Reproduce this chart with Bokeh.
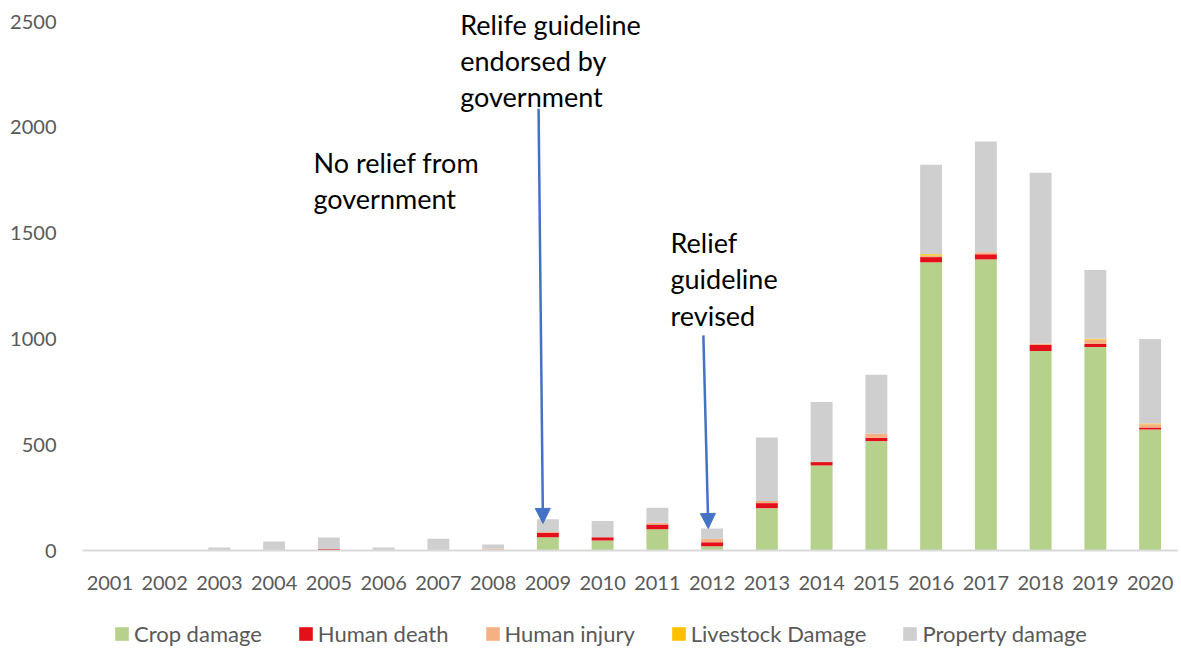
from bokeh.plotting import figure
from bokeh.layouts import column
from bokeh.models import (ColumnDataSource, Range1d, FixedTicker, Legend, LegendItem,
                          Arrow, NormalHead, Label)
from bokeh.embed import file_html
from bokeh.resources import INLINE

years = list(range(2001, 2021))
crop = [0, 0, 0, 0, 0, 0, 0, 0, 63, 47, 101, 20, 200, 402, 517, 1362, 1376, 943, 962, 572]
death = [0, 0, 0, 0, 8, 0, 0, 3, 21, 16, 22, 19, 24, 16, 16, 25, 24, 28, 14, 10]
injury = [0, 0, 0, 0, 0, 0, 0, 5, 4, 0, 8, 16, 10, 2, 19, 7, 10, 8, 21, 15]
livestock = [0, 0, 0, 0, 0, 0, 0, 0, 0, 0, 0, 0, 0, 0, 0, 7, 0, 0, 4, 3]
prop = [0, 0, 14, 43, 54, 14, 55, 20, 60, 76, 71, 49, 300, 282, 279, 423, 524, 807, 325, 400]

series = ["crop", "death", "injury", "livestock", "prop"]
labels = ["Crop damage", "Human death", "Human injury", "Livestock Damage", "Property damage"]
colors = ["#B5D18B", "#E3101A", "#F4B183", "#FFC000", "#CFCFCF"]
yticks = [0, 500, 1000, 1500, 2000, 2500]

source = ColumnDataSource(dict(x=years, crop=crop, death=death, injury=injury,
                               livestock=livestock, prop=prop))

FONT = "Lato"
GRAY = "#595959"

p = figure(width=1181, height=598, output_backend="svg", toolbar_location=None,
           x_range=Range1d(2000.5, 2020.5), y_range=Range1d(0, 2600),
           min_border_left=82, min_border_right=4, min_border_top=0, min_border_bottom=48)
p.outline_line_color = None
p.xgrid.grid_line_color = None
p.ygrid.grid_line_color = None

rs = p.vbar_stack(series, x="x", width=0.4, source=source, color=colors, line_color=None)

# axes
p.xaxis.ticker = FixedTicker(ticks=years)
p.xaxis.axis_line_color = "#D9D9D9"
p.xaxis.axis_line_width = 2
p.xaxis.major_tick_line_color = None
p.xaxis.minor_tick_line_color = None
p.xaxis.major_label_text_font = FONT
p.xaxis.major_label_text_font_size = "20px"
p.xaxis.major_label_text_color = GRAY
p.xaxis.major_label_standoff = 19

p.yaxis.ticker = FixedTicker(ticks=yticks)
p.yaxis.axis_line_color = None
p.yaxis.major_tick_line_color = None
p.yaxis.minor_tick_line_color = None
p.yaxis.major_label_text_font = FONT
p.yaxis.major_label_text_font_size = "20px"
p.yaxis.major_label_text_color = GRAY
p.yaxis.major_label_standoff = 20

# annotations
ann = [
    (2007.40, 2565, "Relife guideline\nendorsed  by\ngovernment"),
    (2004.72, 1914, "No relief from\ngovernment"),
    (2011.24, 1534, "Relief\nguideline\nrevised"),
]
for ax, ay, t in ann:
    p.add_layout(Label(x=ax, y=ay, text=t, text_font=FONT, text_font_size="27px",
                       text_color="black", text_baseline="top", text_align="left",
                       text_line_height=1.1))

arrows = [
    (2008.83, 2088, 2008.91, 128),
    (2011.84, 1017, 2011.93, 104),
]
for x0, y0, x1, y1 in arrows:
    p.add_layout(Arrow(x_start=x0, y_start=y0, x_end=x1, y_end=y1,
                       line_color="#4472C4", line_width=2.5,
                       end=NormalHead(size=15, fill_color="#4472C4", line_color="#4472C4")))

# legend in a strip below the chart (zero-height proxy bars only carry the colours)
lg = figure(width=1181, height=50, output_backend="svg", toolbar_location=None,
            x_range=Range1d(0, 1), y_range=Range1d(0, 1), min_border=0)
lg.axis.visible = False
lg.grid.visible = False
lg.outline_line_color = None
proxy = ColumnDataSource(dict(x=[0], b=[0], t=[0]))
dummies = [lg.vbar(x="x", bottom="b", top="t", width=0, source=proxy,
                   fill_color=c, line_color=None) for c in colors]
legend = Legend(items=[LegendItem(label=l, renderers=[r]) for l, r in zip(labels, dummies)],
                orientation="horizontal", location=(31, 1),
                label_text_font=FONT, label_text_font_size="22px", label_text_color=GRAY,
                glyph_width=17, glyph_height=17, spacing=35, label_standoff=4,
                padding=0, margin=0, border_line_color=None, background_fill_alpha=0)
lg.add_layout(legend)

open("out.html", "w").write(file_html(column(p, lg, spacing=0), INLINE))
